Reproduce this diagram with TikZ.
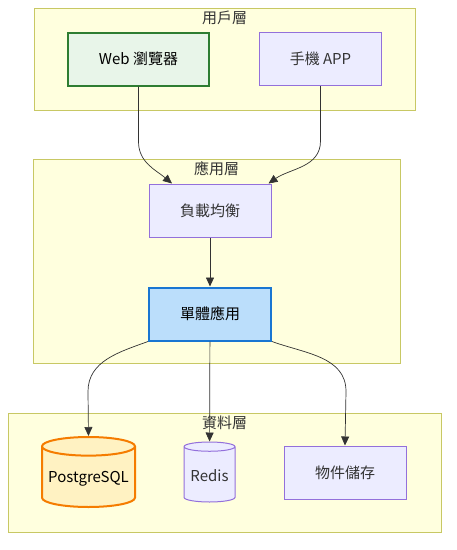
\documentclass[tikz,border=0pt]{standalone}
\usepackage{fontspec}
\newfontfamily\cjk{Noto Sans CJK TC}
\usetikzlibrary{positioning,arrows.meta,shapes.geometric}
\definecolor{clfill}{HTML}{FFFFDE}
\definecolor{clline}{HTML}{C8C864}
\definecolor{ndfill}{HTML}{ECECFF}
\definecolor{ndline}{HTML}{9370DB}
\definecolor{txtgray}{HTML}{333333}
\definecolor{webfill}{HTML}{E8F5E9}
\definecolor{webline}{HTML}{2E7D32}
\definecolor{monofill}{HTML}{BBDEFB}
\definecolor{monoline}{HTML}{1976D2}
\definecolor{pgfill}{HTML}{FFF2C2}
\definecolor{pgline}{HTML}{F57C00}
\tikzset{
  layer/.style={draw=clline, fill=clfill, line width=1pt, inner sep=0pt},
  layerlbl/.style={font=\cjk\fontsize{15}{18}\selectfont, text=txtgray, inner sep=0pt},
  blk/.style={draw=ndline, fill=ndfill, line width=1pt, align=center,
              font=\cjk\fontsize{15}{18}\selectfont, text=txtgray,
              minimum width=122pt, minimum height=53pt, inner sep=2pt},
  db/.style={blk, cylinder, shape border rotate=90, aspect=0.22, anchor=shape center},
  flow/.style={-{Triangle[length=9pt,width=8pt]}, line width=0.7pt, draw=txtgray, fill=none},
}
\begin{document}
\begin{tikzpicture}[x=1pt, y=-1pt]
        \useasboundingbox (0,0) rectangle (457,550);
        % layers
        \node[layer, minimum width=381pt, minimum height=102pt] (user) at (224.5,59) {};
        \node[layer, minimum width=367pt, minimum height=204pt] (apps) at (216.5,261) {};
        \node[layer, minimum width=433pt, minimum height=119pt] (data) at (224.5,472.5) {};
        \node[layerlbl, below=3pt of user.north] {用戶層};
        \node[layerlbl, below=3pt of apps.north] {應用層};
        \node[layerlbl, below=3pt of data.north] {資料層};
        % nodes
        \node[blk, minimum width=141pt, fill=webfill, draw=webline, line width=2pt, text=black]
          (web) at (138.5,59) {Web 瀏覽器};
        \node[blk, right=49pt of web] (app) {手機 APP};
        \node[blk] (lb) at (210,210.5) {負載均衡};
        \node[blk, below=49pt of lb, fill=monofill, draw=monoline, line width=2pt, text=black]
          (mono) {單體應用};
        \node[db, minimum width=93pt, minimum height=70pt, fill=pgfill, draw=pgline,
              line width=2pt, text=black] (pg) at (88.5,472) {PostgreSQL};
        \node[db, minimum width=51pt, minimum height=60pt] (redis) at (209.5,472) {Redis};
        \node[blk] (obj) at (345,472.5) {物件儲存};
        % connectors
        \draw[flow] (web.south) -- ++(0,55) to[out=-90,in=140] ([xshift=-38pt]lb.north);
        \draw[flow] (app.south) -- ++(0,55) to[out=-90,in=35] ([xshift=-3pt]lb.north east);
        \draw[flow] (lb) -- (mono);
        \draw[flow] (mono.south west) to[out=200,in=90] ++(-60,50) -- (pg.north);
        \draw[flow] (mono) -- (redis);
        \draw[flow] (mono.south east) to[out=-20,in=90] ++(74,50) -- (obj.north);
      \end{tikzpicture}
\end{document}
